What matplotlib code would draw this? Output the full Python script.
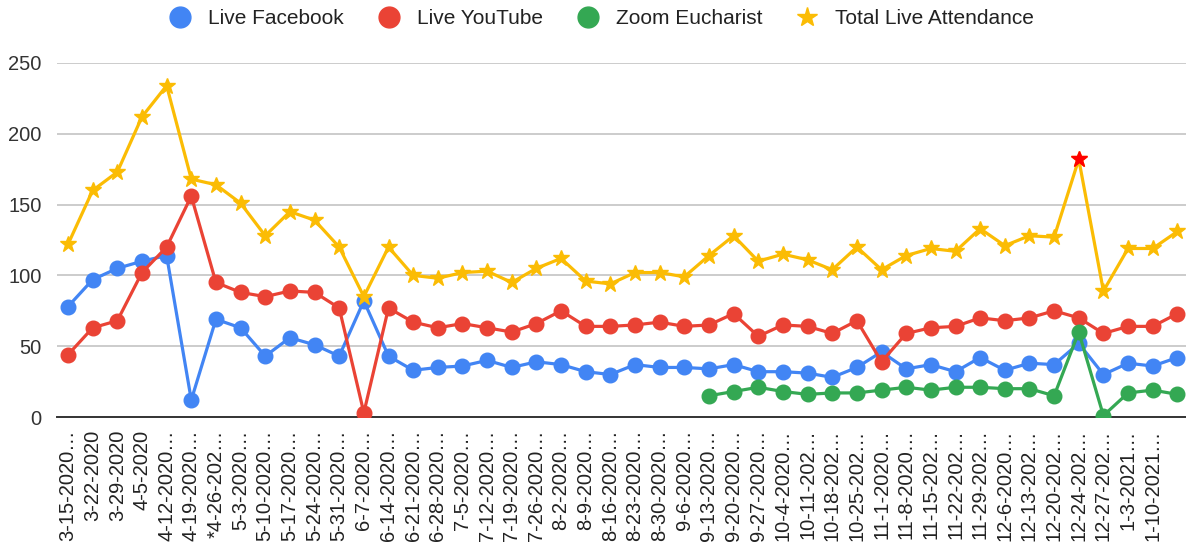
import numpy as np
import matplotlib.pyplot as plt
from matplotlib.lines import Line2D

plt.rcParams['font.family'] = ['Liberation Sans', 'DejaVu Sans']

# weekly dates (last point has no label shown)
dates = ['3-15-2020…', '3-22-2020', '3-29-2020', '4-5-2020', '4-12-2020…', '4-19-2020…',
         '*4-26-202…', '5-3-2020…', '5-10-2020…', '5-17-2020…', '5-24-2020…', '5-31-2020…',
         '6-7-2020…', '6-14-2020…', '6-21-2020…', '6-28-2020…', '7-5-2020…', '7-12-2020…',
         '7-19-2020…', '7-26-2020…', '8-2-2020…', '8-9-2020…', '8-16-2020…', '8-23-2020…',
         '8-30-2020…', '9-6-2020…', '9-13-2020…', '9-20-2020…', '9-27-2020…', '10-4-2020…',
         '10-11-202…', '10-18-202…', '10-25-202…', '11-1-2020…', '11-8-2020…', '11-15-202…',
         '11-22-202…', '11-29-202…', '12-6-2020…', '12-13-202…', '12-20-202…', '12-24-202…',
         '12-27-202…', '1-3-2021…', '1-10-2021…', '']

facebook = [78, 97, 105, 110, 114, 12, 69, 63, 43, 56, 51, 43, 82, 43, 33, 35, 36, 40,
            35, 39, 37, 32, 30, 37, 35, 35, 34, 37, 32, 32, 31, 28, 35, 46, 34, 37,
            32, 42, 33, 38, 37, 52, 30, 38, 36, 42]

youtube = [44, 63, 68, 102, 120, 156, 95, 88, 85, 89, 88, 77, 3, 77, 67, 63, 66, 63,
           60, 66, 75, 64, 64, 65, 67, 64, 65, 73, 57, 65, 64, 59, 68, 39, 59, 63,
           64, 70, 68, 70, 75, 70, 59, 64, 64, 73]

zoom = [np.nan] * 26 + [15, 18, 21, 18, 16, 17, 17, 19, 21, 19, 21, 21, 20, 20, 15, 60,
                        1, 17, 19, 16]

total = [122, 160, 173, 212, 234, 168, 164, 151, 128, 145, 139, 120, 85, 120, 100, 98, 102, 103,
         95, 105, 112, 96, 94, 102, 102, 99, 114, 128, 110, 115, 111, 104, 120, 104, 114, 119,
         117, 133, 121, 128, 127, 182, 89, 119, 119, 131]

highlight = 41  # Christmas Eve point drawn with a red star

blue, red, green, gold = '#4285F4', '#EA4335', '#34A853', '#FBBC04'

fig = plt.figure(figsize=(11.86, 5.5), dpi=100)
ax = fig.add_axes([0.048, 0.2418, 0.952, 0.6437])

x = np.arange(len(dates))
ax.plot(x, facebook, color=blue, lw=2.3, marker='o', ms=10.5, zorder=3)
ax.plot(x, youtube, color=red, lw=2.3, marker='o', ms=10.5, zorder=4)
ax.plot(x, zoom, color=green, lw=2.3, marker='o', ms=10.5, zorder=5)
ax.plot(x, total, color=gold, lw=2.3, marker='*', ms=12, zorder=6)
ax.plot(x[highlight], total[highlight], color='#FF0000', marker='*', ms=12, ls='none', zorder=7)

ax.set_xlim(-0.45, 45.35)
ax.set_ylim(0, 250)
ax.set_yticks([0, 50, 100, 150, 200, 250])
ax.set_xticks(x)
ax.set_xticklabels(dates, rotation=90, fontsize=14.5, color='#222222')
ax.tick_params(axis='x', length=0, pad=9)
ax.tick_params(axis='y', length=0, pad=11, labelsize=14.5, labelcolor='#333333')

ax.grid(axis='y', color='#cccccc', lw=1.4)
ax.set_axisbelow(True)
for s in ['top', 'right', 'left']:
    ax.spines[s].set_visible(False)
ax.spines['bottom'].set_color('#333333')
ax.spines['bottom'].set_linewidth(1.4)
ax.spines['bottom'].set_zorder(2)

handles = [
    Line2D([], [], color=blue, marker='o', ls='none', ms=15),
    Line2D([], [], color=red, marker='o', ls='none', ms=15),
    Line2D([], [], color=green, marker='o', ls='none', ms=15),
    Line2D([], [], color=gold, marker='*', ls='none', ms=15),
]
names = ['Live Facebook', 'Live YouTube', 'Zoom Eucharist', 'Total Live Attendance']
fig.legend(handles, names, loc='upper center', bbox_to_anchor=(0.503, 1.017), ncol=4,
           frameon=False, fontsize=15, handletextpad=0.35, columnspacing=1.15,
           labelcolor='#222222')

plt.savefig('out.png', dpi=100)
